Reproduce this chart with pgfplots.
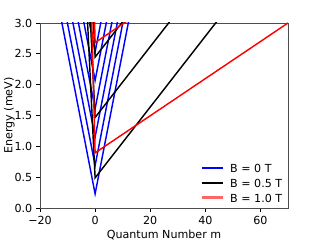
\documentclass[border=0pt]{standalone}
\usepackage{fontspec}
\setmainfont{DejaVu Sans}
\usepackage{pgfplots}
\pgfplotsset{compat=1.18}
\begin{document}
\begin{tikzpicture}
\useasboundingbox (-36pt,-28.8pt) rectangle (252pt,187.2pt);
\begin{axis}[
  at={(0,0)}, anchor=south west,
  scale only axis, width=223.2pt, height=166.5pt,
  xmin=-20, xmax=70, ymin=0, ymax=3,
  xtick={-20,0,20,40,60},
  xticklabels={−20,0,20,40,60},
  ytick={0,0.5,1,1.5,2,2.5,3},
  yticklabels={0.0,0.5,1.0,1.5,2.0,2.5,3.0},
  tick align=outside, major tick length=3.5pt,
  xtick pos=left, ytick pos=left,
  tick style={black, line width=0.8pt},
  axis line style={line width=0.8pt, black!70},
  every tick label/.append style={font=\fontsize{10}{12}\selectfont},
  label style={font=\fontsize{10}{12}\selectfont},
  xlabel={Quantum Number m},
  ylabel={Energy (meV)},
  xlabel style={yshift=2pt},
  ylabel style={at={(axis description cs:-0.124,0.5)}, anchor=center},
  clip=true,
  legend style={draw=none, fill=none, at={(rel axis cs:1.0,-0.005)}, anchor=south east,
    font=\fontsize{10}{12}\selectfont, row sep=0.5pt},
  legend cell align=left,
  legend image code/.code={\draw[#1, line width=1.9pt] (0cm,0.3ex) -- (0.65cm,0.3ex);},
]
% B = 0 T
\addplot[blue, line width=1.3pt] coordinates {(-13,3.22) (0,0.23) (13,3.22)};
\addlegendentry{\hspace{4pt}B = 0 T}
\addplot[blue, line width=1.3pt, forget plot] coordinates {(-13,3.68) (0,0.69) (13,3.68)};
\addplot[blue, line width=1.3pt, forget plot] coordinates {(-13,4.14) (0,1.15) (13,4.14)};
\addplot[blue, line width=1.3pt, forget plot] coordinates {(-13,4.60) (0,1.61) (13,4.60)};
\addplot[blue, line width=1.3pt, forget plot] coordinates {(-13,5.06) (0,2.07) (13,5.06)};
\addplot[blue, line width=1.3pt, forget plot] coordinates {(-13,5.52) (0,2.53) (13,5.52)};
% B = 0.5 T
\addplot[black, line width=1.3pt] coordinates {(-4,4.175) (0,0.4894) (70,4.507)};
\addlegendentry{\hspace{4pt}B = 0.5 T}
\addplot[black, line width=1.3pt, forget plot] coordinates {(-4,5.154) (0,1.4682) (70,5.486)};
\addplot[black, line width=1.3pt, forget plot] coordinates {(-4,6.133) (0,2.4470) (70,6.465)};
% B = 1.0 T
\addplot[red, line width=1.3pt, legend image post style={opacity=0.6}] coordinates {(-2,4.410) (0,0.8941) (70,3.0004)};
\addlegendentry{\hspace{4pt}B = 1.0 T}
\addplot[red, line width=1.3pt, forget plot] coordinates {(-2,6.198) (0,2.6823) (70,4.789)};
\end{axis}
\end{tikzpicture}
\end{document}
